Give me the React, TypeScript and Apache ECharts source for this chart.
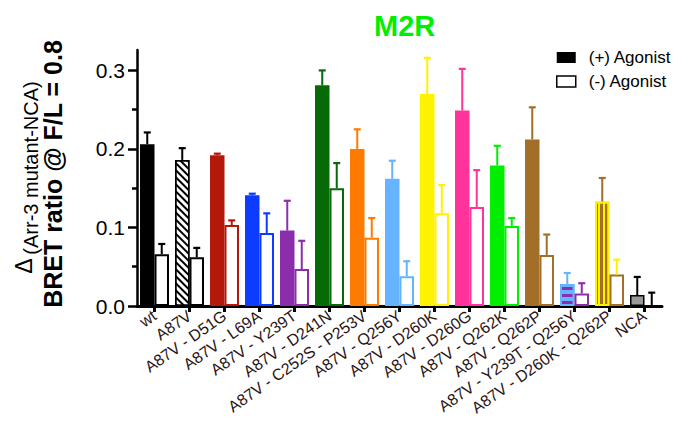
import React, { useEffect, useRef } from 'react';
import * as echarts from 'echarts';

const categories = [
  'wt', 'A87V', 'A87V - D51G', 'A87V - L69A', 'A87V - Y239T', 'A87V - D241N',
  'A87V - C252S - P253V', 'A87V - Q256Y', 'A87V - D260K', 'A87V - D260G',
  'A87V - Q262K', 'A87V - Q262P', 'A87V - Y239T - Q256Y', 'A87V - D260K - Q262P', 'NCA',
];
const plusMean = [0.206, 0.186, 0.192, 0.141, 0.096, 0.281, 0.200, 0.162, 0.270, 0.249, 0.179, 0.212, 0.028, 0.133, 0.014];
const plusErr = [0.015, 0.015, 0.002, 0.002, 0.038, 0.019, 0.025, 0.023, 0.046, 0.053, 0.025, 0.041, 0.014, 0.030, 0.023];
const minusMean = [0.066, 0.062, 0.103, 0.093, 0.047, 0.150, 0.087, 0.038, 0.118, 0.126, 0.102, 0.065, 0.016, 0.040, 0];
const minusErr = [0.013, 0.012, 0.006, 0.025, 0.036, 0.032, 0.025, 0.019, 0.036, 0.047, 0.010, 0.026, 0.013, 0.019, 0.017];
const yTicks = [0, 0.1, 0.2, 0.3];
const yMinorTicks = [0.05, 0.15, 0.25];

// styles
const BLACK = '#000000';
const RED = '#b3180b';
const BLUE = '#0d3cff';
const PURPLE = '#8b2eab';
const DKGREEN = '#066a06';
const ORANGE = '#ff7a00';
const LTBLUE = '#66b3ff';
const YELLOW = '#fff200';
const PINK = '#ff3399';
const GREEN = '#00ee00';
const BROWN = '#a36f28';
const GRAY = '#999999';

const plusColors = [BLACK, '#ffffff', RED, BLUE, PURPLE, DKGREEN, ORANGE, LTBLUE, YELLOW, PINK, GREEN, BROWN, LTBLUE, BROWN, GRAY];
const plusErrColors = [BLACK, BLACK, RED, BLUE, PURPLE, DKGREEN, ORANGE, LTBLUE, YELLOW, PINK, GREEN, BROWN, LTBLUE, BROWN, BLACK];
const minusColors = [BLACK, BLACK, RED, BLUE, PURPLE, DKGREEN, ORANGE, LTBLUE, YELLOW, PINK, GREEN, BROWN, PURPLE, BROWN, BLACK];
const minusErrColors = [BLACK, BLACK, RED, BLUE, PURPLE, DKGREEN, ORANGE, LTBLUE, YELLOW, PINK, GREEN, BROWN, PURPLE, YELLOW, BLACK];

const FONT = '"Liberation Sans", Arial, Helvetica, sans-serif';
const Y_MAX = 0.326;

function plusItemStyle(i: number): any {
  if (i === 1) {
    return {
      color: '#ffffff', borderColor: BLACK, borderWidth: 1.5,
      decal: { symbol: 'rect', symbolSize: 1, dashArrayX: [1, 0], dashArrayY: [2, 3], rotation: Math.PI / 4, color: BLACK },
    };
  }
  if (i === 12) {
    return {
      color: LTBLUE, borderColor: LTBLUE, borderWidth: 2,
      decal: { symbol: 'rect', symbolSize: 1, dashArrayX: [1, 0], dashArrayY: [3, 4], rotation: 0, color: PURPLE },
    };
  }
  if (i === 13) {
    return {
      color: BROWN, borderColor: YELLOW, borderWidth: 2,
      decal: { symbol: 'rect', symbolSize: 1, dashArrayX: [1, 0], dashArrayY: [2, 3], rotation: Math.PI / 2, color: YELLOW },
    };
  }
  if (i === 14) {
    return { color: GRAY, borderColor: BLACK, borderWidth: 1.5 };
  }
  return { color: plusColors[i], borderWidth: 0 };
}

function errSeries(name: string, side: number, means: number[], errs: number[], colors: string[]) {
  return {
    type: 'custom',
    name,
    silent: true,
    z: 5,
    data: means.map((m, i) => [i, m, m + errs[i], i]),
    encode: { x: 0, y: [1, 2] },
    renderItem: (_params: any, api: any) => {
      const idx = api.value(3);
      const base = api.coord([api.value(0), api.value(1)]);
      const top = api.coord([api.value(0), api.value(2)]);
      const bw = api.size([1, 0])[0];
      const x = base[0] + side * bw * 0.207;
      const col = colors[idx];
      return {
        type: 'group',
        children: [
          { type: 'line', shape: { x1: x, y1: base[1], x2: x, y2: top[1] }, style: { stroke: col, lineWidth: 2 } },
          { type: 'line', shape: { x1: x - 3.5, y1: top[1], x2: x + 3.5, y2: top[1] }, style: { stroke: col, lineWidth: 2.2 } },
        ],
      };
    },
  };
}

export default function App() {
  const ref = useRef<HTMLDivElement>(null);
  useEffect(() => {
    document.body.style.margin = '0';
    const chart = echarts.init(ref.current!, null, { renderer: 'svg' });
    const option: any = {
      animation: false,
      backgroundColor: '#ffffff',
      textStyle: { fontFamily: FONT },
      title: {
        text: 'M2R',
        left: 369,
        top: 6,
        textStyle: { fontFamily: FONT, fontSize: 29, fontWeight: 'bold', color: GREEN },
      },
      legend: {
        orient: 'vertical',
        left: 556,
        top: 49,
        padding: 0,
        itemWidth: 19,
        itemHeight: 11,
        itemGap: 7,
        icon: 'rect',
        textStyle: { fontFamily: FONT, fontSize: 17, color: BLACK, padding: [0, 0, 0, 8] },
        data: [
          { name: '(+) Agonist', itemStyle: { color: BLACK, borderWidth: 0 } },
          { name: '(-) Agonist', itemStyle: { color: '#ffffff', borderColor: BLACK, borderWidth: 1.5 } },
        ],
      },
      grid: { left: 137, right: 13, top: 50, bottom: 125, containLabel: false },
      xAxis: {
        type: 'category',
        data: categories,
        axisLine: { show: true, lineStyle: { color: BLACK, width: 3 } },
        axisTick: { show: true, alignWithLabel: true, length: 6, lineStyle: { color: BLACK, width: 3 } },
        axisLabel: { interval: 0, rotate: 35, fontFamily: FONT, fontSize: 16, color: '#2b1515', margin: 8 },
        splitLine: { show: false },
      },
      yAxis: [
        {
          type: 'value',
          min: 0,
          max: Y_MAX,
          interval: 0.1,
          axisLine: { show: true, lineStyle: { color: BLACK, width: 2.5 } },
          axisTick: { show: true, length: 9, lineStyle: { color: BLACK, width: 2.5 }, customValues: yTicks },
          axisLabel: {
            fontFamily: FONT, fontSize: 21, color: BLACK, margin: 12,
            customValues: yTicks,
            formatter: (v: number) => v.toFixed(1),
          },
          splitLine: { show: false },
        },
        {
          type: 'value',
          min: 0,
          max: Y_MAX,
          position: 'left',
          axisLine: { show: false },
          axisTick: { show: true, length: 5, lineStyle: { color: BLACK, width: 2.5 }, customValues: yMinorTicks },
          axisLabel: { show: false },
          splitLine: { show: false },
        },
      ],
      graphic: [
        {
          type: 'text', x: 24, y: 266, rotation: Math.PI / 2,
          style: { text: 'Δ', font: `23px ${FONT}`, fill: BLACK, align: 'center', verticalAlign: 'middle' },
        },
        {
          type: 'text', x: 31, y: 168, rotation: Math.PI / 2,
          style: { text: '(Arr-3 mutant-NCA)', font: `20px ${FONT}`, fill: BLACK, align: 'center', verticalAlign: 'middle' },
        },
        {
          type: 'text', x: 53, y: 174, rotation: Math.PI / 2,
          style: { text: 'BRET ratio @ F/L = 0.8', font: `bold 25px ${FONT}`, fill: BLACK, align: 'center', verticalAlign: 'middle' },
        },
      ],
      series: [
        {
          type: 'bar',
          name: '(+) Agonist',
          barWidth: '41.4%',
          barGap: '0%',
          itemStyle: { color: BLACK },
          data: plusMean.map((v, i) => ({ value: v, itemStyle: plusItemStyle(i) })),
        },
        {
          type: 'bar',
          name: '(-) Agonist',
          barWidth: '41.4%',
          barGap: '0%',
          itemStyle: { color: '#ffffff', borderColor: BLACK, borderWidth: 2 },
          data: minusMean.map((v, i) => ({
            value: v,
            itemStyle: { color: '#ffffff', borderColor: minusColors[i], borderWidth: 2 },
          })),
        },
        errSeries('errPlus', -1, plusMean, plusErr, plusErrColors),
        errSeries('errMinus', 1, minusMean, minusErr, minusErrColors),
      ],
    };
    chart.setOption(option);
    return () => chart.dispose();
  }, []);
  return <div ref={ref} style={{ width: 675, height: 431 }} />;
}
